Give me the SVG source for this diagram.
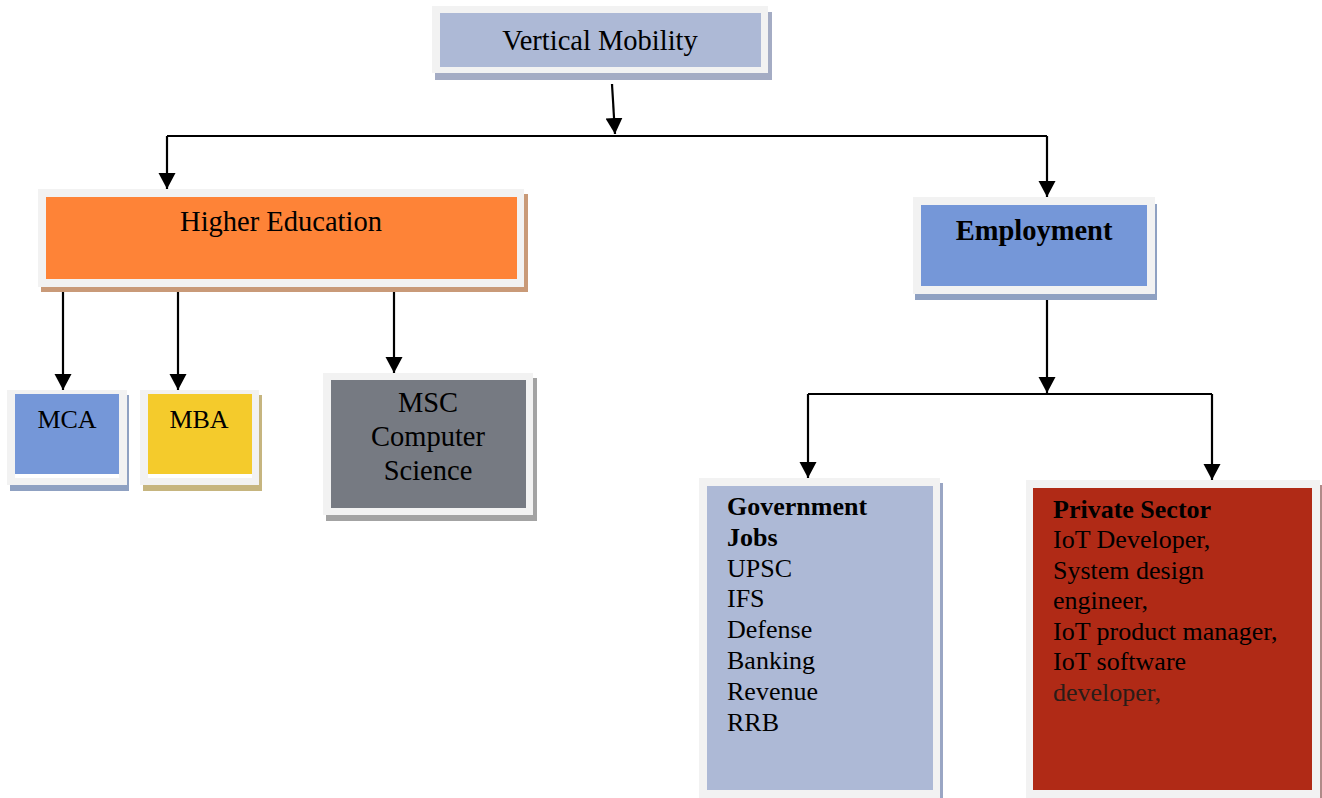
<svg xmlns="http://www.w3.org/2000/svg" width="1322" height="798" viewBox="0 0 1322 798">
<style>
.frame{fill:#f2f2f2}
.t{font-family:"Liberation Serif","Times New Roman",serif;fill:#000}
.h{font-size:28.5px}
.s{font-size:26px}
.b{font-weight:bold}
.c{text-anchor:middle}
.ln{stroke:#000;stroke-width:2.2;fill:none}
</style>
<defs>
<marker id="ah" markerUnits="userSpaceOnUse" markerWidth="18" markerHeight="18" refX="16" refY="9" orient="auto">
<path d="M0,0.5 L16,9 L0,17.5 z" fill="#000"/>
</marker>
</defs>
<rect width="1322" height="798" fill="#fff"/>

<g id="connectors">
<path class="ln" d="M612,84 L615,134" marker-end="url(#ah)"/>
<path class="ln" d="M167,136 L1047,136"/>
<path class="ln" d="M167,136 L167,189" marker-end="url(#ah)"/>
<path class="ln" d="M1047,136 L1047,197" marker-end="url(#ah)"/>
<path class="ln" d="M63,281 L63,390" marker-end="url(#ah)"/>
<path class="ln" d="M178,290 L178,390" marker-end="url(#ah)"/>
<path class="ln" d="M394,282 L394,373" marker-end="url(#ah)"/>
<path class="ln" d="M1047,294 L1047,393" marker-end="url(#ah)"/>
<path class="ln" d="M808,394 L1212,394"/>
<path class="ln" d="M808,394 L808,478" marker-end="url(#ah)"/>
<path class="ln" d="M1212,394 L1212,480" marker-end="url(#ah)"/>
</g>

<g id="vertical-mobility">
<rect x="435" y="12" width="337" height="68" fill="#a4acc4"/>
<rect class="frame" x="432" y="6" width="336" height="67"/>
<rect x="440" y="13" width="321" height="54" fill="#adb9d6"/>
<text class="t h c" x="600" y="50">Vertical Mobility</text>
</g>

<g id="higher-education">
<rect x="41" y="194" width="487" height="98" fill="#c99a78"/>
<rect class="frame" x="38" y="189" width="486" height="98"/>
<rect x="46" y="197" width="471" height="82" fill="#fe8337"/>
<text class="t h c" x="281" y="231">Higher Education</text>
</g>

<g id="employment">
<rect x="915" y="204" width="242" height="96" fill="#8fa1c2"/>
<rect class="frame" x="913" y="197" width="242" height="97"/>
<rect x="921" y="205" width="226" height="81" fill="#7597d8"/>
<text class="t h b c" x="1034" y="240">Employment</text>
</g>

<g id="mca">
<rect x="10" y="395" width="119" height="96" fill="#8fa1c2"/>
<rect class="frame" x="7" y="390" width="120" height="95"/>
<rect x="15" y="394" width="104" height="84" fill="#fff"/>
<rect x="15" y="394" width="104" height="80" fill="#7597d8"/>
<text class="t s c" x="67" y="428">MCA</text>
</g>

<g id="mba">
<rect x="143" y="395" width="119" height="96" fill="#c6b57f"/>
<rect class="frame" x="140" y="390" width="119" height="95"/>
<rect x="148" y="394" width="104" height="84" fill="#fff"/>
<rect x="148" y="394" width="104" height="80" fill="#f4cb2c"/>
<text class="t s c" x="199" y="428">MBA</text>
</g>

<g id="msc">
<rect x="326" y="378" width="211" height="143" fill="#a3a3a3"/>
<rect class="frame" x="323" y="373" width="210" height="142"/>
<rect x="331" y="380" width="195" height="128" fill="#767a82"/>
<text class="t h c" x="428" y="412">MSC</text>
<text class="t h c" x="428" y="446">Computer</text>
<text class="t h c" x="428" y="480">Science</text>
</g>

<g id="government-jobs">
<rect x="702" y="483" width="241" height="320" fill="#9aa6c4"/>
<rect class="frame" x="699" y="478" width="241" height="325"/>
<rect x="707" y="486" width="226" height="304" fill="#adb9d6"/>
<text class="t s b" x="727" y="515">Government</text>
<text class="t s b" x="727" y="546">Jobs</text>
<text class="t s" x="727" y="577">UPSC</text>
<text class="t s" x="727" y="607">IFS</text>
<text class="t s" x="727" y="638">Defense</text>
<text class="t s" x="727" y="669">Banking</text>
<text class="t s" x="727" y="700">Revenue</text>
<text class="t s" x="727" y="731">RRB</text>
</g>

<g id="private-sector">
<rect x="1029" y="485" width="294" height="320" fill="#b08a88"/>
<rect class="frame" x="1026" y="480" width="294" height="325"/>
<rect x="1033" y="488" width="279" height="302" fill="#b02a16"/>
<text class="t s b" x="1053" y="518">Private Sector</text>
<text class="t s" x="1053" y="548">IoT Developer,</text>
<text class="t s" x="1053" y="579">System design</text>
<text class="t s" x="1053" y="609">engineer,</text>
<text class="t s" x="1053" y="640">IoT product manager,</text>
<text class="t s" x="1053" y="670">IoT software</text>
<text class="t s" x="1053" y="701" style="fill:#2a1c18">developer,</text>
</g>
</svg>
